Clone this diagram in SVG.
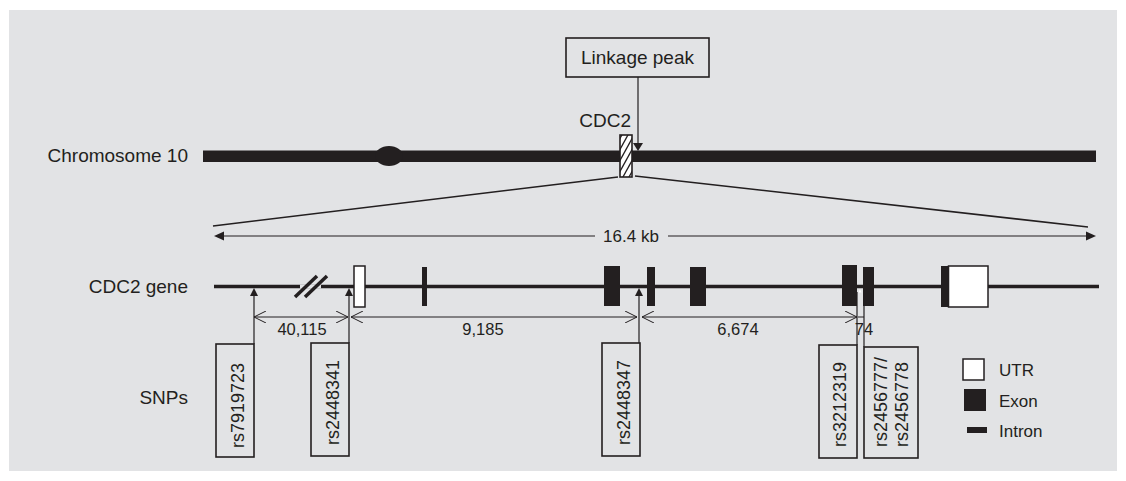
<svg xmlns="http://www.w3.org/2000/svg" width="1126" height="481" viewBox="0 0 1126 481">
<style>
text{font-family:"Liberation Sans",Arial,sans-serif;fill:#231f20}
.lab{font-size:19px}
.snp{font-size:18px}
.dim{font-size:16.5px}
.leg{font-size:17px}
.ln{stroke:#231f20;fill:none}
.blk{fill:#231f20}
.utr{fill:#fff;stroke:#231f20;stroke-width:1.5}
.box{fill:none;stroke:#231f20;stroke-width:1.6}
</style>
<defs>
<marker id="ch" viewBox="0 0 12 12" refX="12" refY="6" markerWidth="12" markerHeight="12" markerUnits="userSpaceOnUse" orient="auto-start-reverse">
<path d="M0,0 L12,6 L0,12" fill="none" stroke="#231f20" stroke-width="1"/>
</marker>
<clipPath id="hclip"><rect x="620" y="135" width="12" height="42"/></clipPath>
</defs>
<rect x="0" y="0" width="1126" height="481" fill="#fff"/>
<rect x="9" y="10" width="1108" height="461" fill="#e2e3e5"/>

<g id="labels">
<text class="lab" x="188" y="162" text-anchor="end">Chromosome 10</text>
<text class="lab" x="188" y="293" text-anchor="end">CDC2 gene</text>
<text class="lab" x="188" y="404" text-anchor="end">SNPs</text>
</g>

<g id="linkage-peak">
<rect class="box" x="566" y="38" width="143" height="39"/>
<text class="lab" x="637.5" y="64" text-anchor="middle">Linkage peak</text>
</g>

<g id="chromosome">
<rect class="blk" x="203" y="150.5" width="893" height="11.5"/>
<ellipse class="blk" cx="389" cy="156" rx="14" ry="10"/>
</g>

<g id="cdc2-locus">
<text class="lab" x="631" y="127" text-anchor="end">CDC2</text>
<rect x="620" y="135" width="12" height="42" fill="#fff"/>
<g clip-path="url(#hclip)" class="ln" stroke-width="1.3">
<line x1="618" y1="142" x2="634" y2="113"/>
<line x1="618" y1="153" x2="634" y2="124"/>
<line x1="618" y1="164" x2="634" y2="135"/>
<line x1="618" y1="175" x2="634" y2="146"/>
<line x1="618" y1="186" x2="634" y2="157"/>
<line x1="618" y1="197" x2="634" y2="168"/>
</g>
<rect class="box" x="620" y="135" width="12" height="42"/>
</g>

<g id="cdc2-gene">
<line class="ln" x1="214" y1="286.5" x2="1099" y2="286.5" stroke-width="3.5"/>
<line x1="300" y1="286.5" x2="321" y2="286.5" stroke="#e2e3e5" stroke-width="4"/>
<line class="ln" x1="295" y1="297" x2="317" y2="276" stroke-width="3.5"/>
<line class="ln" x1="305" y1="297" x2="327" y2="276" stroke-width="3.5"/>
<rect class="utr" x="354" y="266" width="11" height="41"/>
<rect class="blk" x="422" y="267" width="5" height="39"/>
<rect class="blk" x="604" y="266" width="16" height="40"/>
<rect class="blk" x="647" y="267" width="8" height="39"/>
<rect class="blk" x="690" y="267" width="16" height="39"/>
<rect class="blk" x="842" y="265" width="15" height="41"/>
<rect class="blk" x="863" y="267" width="11" height="39"/>
<rect class="blk" x="941" y="266" width="8" height="41"/>
<rect class="utr" x="948.5" y="266" width="39.5" height="41"/>
</g>

<g id="connectors">
<line class="ln" x1="638" y1="77" x2="638" y2="144" stroke-width="1.2"/>
<polygon class="blk" points="633,143 643,143 638,151"/>
<line class="ln" x1="618" y1="177" x2="213" y2="226" stroke-width="1.6"/>
<line class="ln" x1="635" y1="176" x2="1088" y2="227" stroke-width="1.6"/>
<line class="ln" x1="222" y1="236" x2="595" y2="236" stroke-width="1.2"/>
<line class="ln" x1="668" y1="236" x2="1088" y2="236" stroke-width="1.2"/>
<polygon class="blk" points="214,236 224,231.5 224,240.5"/>
<polygon class="blk" points="1096,236 1086,231.5 1086,240.5"/>
<line class="ln" x1="254" y1="344" x2="254" y2="295" stroke-width="1.2"/>
<polygon class="blk" points="250,296 258,296 254,288"/>
<line class="ln" x1="349" y1="343" x2="349" y2="295" stroke-width="1.2"/>
<polygon class="blk" points="345,296 353,296 349,288"/>
<line class="ln" x1="639" y1="343" x2="639" y2="295" stroke-width="1.2"/>
<polygon class="blk" points="635,296 643,296 639,288"/>
<line class="ln" x1="857" y1="345" x2="857" y2="292" stroke-width="1.2"/>
<polygon points="858.5,292.5 861.5,292.5 860,289" fill="#fff"/>
<line class="ln" x1="864" y1="347" x2="864" y2="293" stroke-width="1.2"/>
<line class="ln" x1="254" y1="317" x2="348" y2="317" stroke-width="1" marker-start="url(#ch)" marker-end="url(#ch)"/>
<line class="ln" x1="351" y1="317" x2="637" y2="317" stroke-width="1" marker-start="url(#ch)" marker-end="url(#ch)"/>
<line class="ln" x1="642" y1="317" x2="857" y2="317" stroke-width="1" marker-start="url(#ch)" marker-end="url(#ch)"/>
<line class="ln" x1="858" y1="317" x2="864" y2="317" stroke-width="1"/>
</g>

<g id="distances">
<text class="dim" x="302" y="335" text-anchor="middle">40,115</text>
<text class="dim" x="483" y="335" text-anchor="middle">9,185</text>
<text class="dim" x="738" y="335" text-anchor="middle">6,674</text>
<text class="dim" x="864" y="335" text-anchor="middle">74</text>
<text class="dim" x="631" y="242" text-anchor="middle" style="font-size:17px">16.4 kb</text>
</g>

<g id="snp-rs7919723">
<rect class="box" x="216" y="344" width="38" height="113"/>
<text class="snp" transform="translate(244,448) rotate(-90)">rs7919723</text>
</g>
<g id="snp-rs2448341">
<rect class="box" x="311" y="343" width="38" height="113"/>
<text class="snp" transform="translate(339,445) rotate(-90)">rs2448341</text>
</g>
<g id="snp-rs2448347">
<rect class="box" x="602" y="343" width="38" height="113"/>
<text class="snp" transform="translate(630,445) rotate(-90)">rs2448347</text>
</g>
<g id="snp-rs3212319">
<rect class="box" x="819" y="345" width="38" height="113"/>
<text class="snp" transform="translate(846,447) rotate(-90)">rs3212319</text>
</g>
<g id="snp-rs2456777">
<rect class="box" x="864" y="347" width="54" height="111"/>
<text class="snp" transform="translate(887,447) rotate(-90)">rs2456777/</text>
<text class="snp" transform="translate(908,447) rotate(-90)">rs2456778</text>
</g>

<g id="legend">
<rect class="utr" x="963" y="359" width="21" height="21"/>
<text class="leg" x="999" y="376">UTR</text>
<rect class="blk" x="964" y="389" width="22" height="22"/>
<text class="leg" x="999" y="407">Exon</text>
<rect class="blk" x="967" y="427" width="20" height="6"/>
<text class="leg" x="999" y="437">Intron</text>
</g>
</svg>
